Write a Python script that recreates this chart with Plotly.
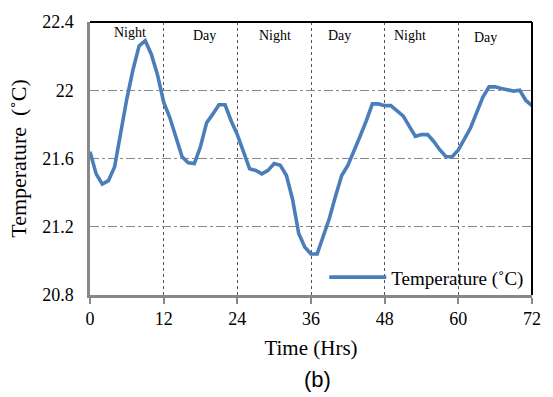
import plotly.graph_objects as go

hours = list(range(0, 73))
temperature = [
    21.64, 21.51, 21.45, 21.47, 21.55, 21.75, 21.95, 22.12, 22.26, 22.29,
    22.21, 22.09, 21.93, 21.84, 21.72, 21.61, 21.575, 21.57, 21.67, 21.81,
    21.86, 21.915, 21.915, 21.82, 21.74, 21.64, 21.54, 21.53, 21.51, 21.53,
    21.57, 21.56, 21.50, 21.36, 21.16, 21.08, 21.04, 21.04, 21.14, 21.25,
    21.38, 21.50, 21.56, 21.64, 21.73, 21.82, 21.92, 21.92, 21.91, 21.91,
    21.88, 21.85, 21.79, 21.73, 21.74, 21.74, 21.70, 21.65, 21.61, 21.61,
    21.65, 21.71, 21.78, 21.87, 21.96, 22.02, 22.02, 22.01, 22.00, 21.995,
    22.00, 21.94, 21.91,
]
x_ticks = [0, 12, 24, 36, 48, 60, 72]
y_ticks = [20.8, 21.2, 21.6, 22.0, 22.4]
y_tick_labels = ["20.8", "21.2", "21.6", "22", "22.4"]
period_labels = ["Night", "Day", "Night", "Day", "Night", "Day"]
period_label_x = [6.5, 18.6, 30.2, 40.7, 52.2, 64.4]
period_label_y = [22.34, 22.32, 22.32, 22.32, 22.32, 22.31]

serif = "Liberation Serif, Times New Roman, serif"

fig = go.Figure()
fig.add_trace(go.Scatter(
    x=hours, y=temperature, mode="lines", name="Temperature (˚C)",
    line=dict(color="#4A7EBB", width=3.6),
))

for lab, lx, ly in zip(period_labels, period_label_x, period_label_y):
    fig.add_annotation(x=lx, y=ly, text=lab, showarrow=False,
                       font=dict(family=serif, size=14, color="black"))

fig.add_annotation(xref="paper", yref="paper", x=0.514, y=-0.309,
                   text="(b)", showarrow=False, yanchor="middle",
                   font=dict(family="Liberation Sans, Arial, sans-serif", size=22, color="black"))

# black top and right border
fig.add_shape(type="line", xref="paper", yref="paper", x0=0, x1=1, y0=1, y1=1,
              line=dict(color="black", width=2))
fig.add_shape(type="line", xref="paper", yref="paper", x0=1, x1=1, y0=0, y1=1,
              line=dict(color="black", width=2))

fig.update_layout(
    width=553, height=397,
    margin=dict(l=90, r=12, t=17, b=102),
    plot_bgcolor="white", paper_bgcolor="white",
    showlegend=True,
    legend=dict(x=0.53, y=0.065, xanchor="left", yanchor="middle",
                bgcolor="rgba(0,0,0,0)", itemwidth=57,
                font=dict(family=serif, size=19, color="black")),
    xaxis=dict(
        range=[0, 72], tickvals=x_ticks, ticks="outside", ticklen=6,
        tickcolor="#888888", tickwidth=2,
        showline=True, linecolor="#888888", linewidth=2.5,
        showgrid=True, gridcolor="#555555", griddash="dot", gridwidth=1,
        zeroline=False,
        tickfont=dict(family=serif, size=18, color="black"),
        title=dict(text="Time (Hrs)", font=dict(family=serif, size=21, color="black"), standoff=12),
    ),
    yaxis=dict(
        range=[20.8, 22.4], tickvals=y_ticks, ticktext=y_tick_labels,
        ticks="", showline=True, linecolor="#888888", linewidth=2.5,
        showgrid=True, gridcolor="#888888", griddash="dashdot", gridwidth=1,
        zeroline=False, ticklabelstandoff=10,
        tickfont=dict(family=serif, size=18, color="black"),
        title=dict(text="Temperature  (˚C)", font=dict(family=serif, size=22, color="black"), standoff=10),
    ),
)

fig.write_html("out.html")
